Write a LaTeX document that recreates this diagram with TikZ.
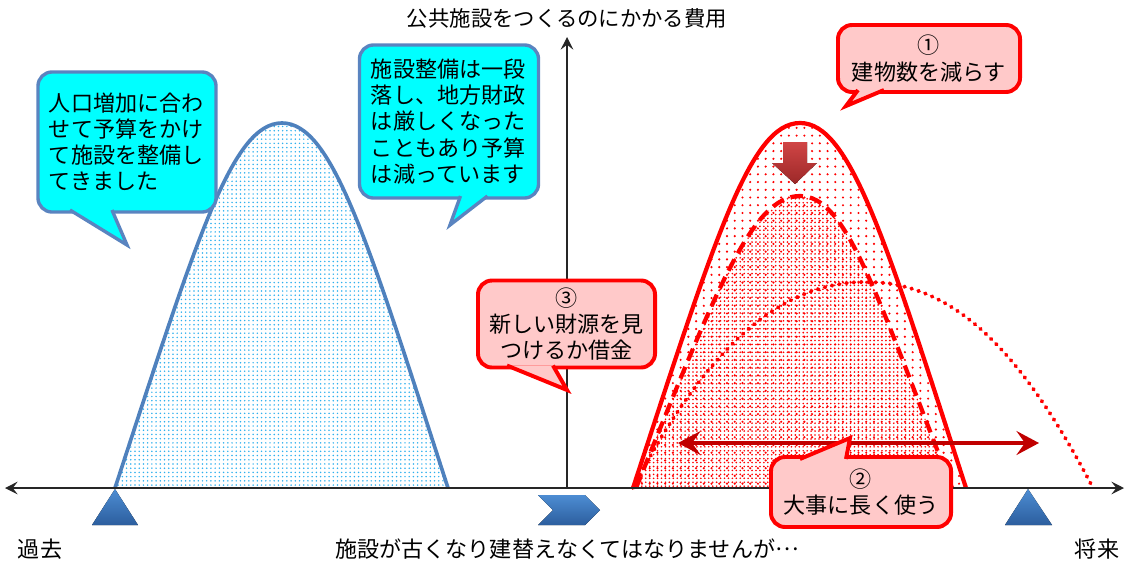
\documentclass[tikz,border=0pt]{standalone}
\usepackage{fontspec}
\setmainfont{Noto Sans CJK JP}
\usetikzlibrary{arrows.meta,calc,patterns.meta}

\definecolor{notecyan}{HTML}{00FFFF}
\definecolor{noteblue}{HTML}{5A84C0}
\definecolor{curveblue}{HTML}{4F81BD}
\definecolor{dotblue}{HTML}{2EB0EE}
\definecolor{notepink}{HTML}{FFC9C9}
\definecolor{arrowred}{HTML}{C00000}
\definecolor{shapetop}{HTML}{4D8DD3}
\definecolor{shapebot}{HTML}{2C5E9E}
\definecolor{blocktop}{HTML}{D04545}
\definecolor{blockbot}{HTML}{9C2828}

\begin{document}
\begin{tikzpicture}[x=0.025cm, y=-0.025cm,
    notefont/.style={font=\fontsize{15.7pt}{18.6pt}\selectfont},
    bluenote/.style={notefont, draw=noteblue, line width=2.4pt, fill=notecyan,
        rounded corners=10pt, outer sep=0pt, inner sep=0pt, align=left, text width=3.9cm},
    rednote/.style={notefont, draw=red, line width=2.8pt, fill=notepink,
        rounded corners=10pt, outer sep=0pt, inner sep=0pt, align=center},
    bluetail/.style={draw=noteblue, line width=2.4pt, fill=notecyan},
    redtail/.style={draw=red, line width=2.8pt, fill=notepink},
    axisline/.style={line width=0.9pt, black!85},
    axistip/.tip={Stealth[length=9pt, width=9pt, inset=3.5pt]},
    longtip/.tip={Stealth[length=16pt, width=17pt, inset=6pt]},
    marker/.style={top color=shapetop, bottom color=shapebot}]
    \useasboundingbox (0,0) rectangle (1128,561);

    % past: built while population grew
    \path[pattern={Dots[distance=3pt, radius=0.6pt]}, pattern color=dotblue,
        draw=curveblue, line width=2.6pt]
        (115,488) .. controls (197,238) and (232,123) .. (282,123)
        .. controls (332,123) and (367,238) .. (448,488);

    % future: needed cost and how to bring it down
    \path[pattern={Dots[distance=5.5pt, radius=0.85pt]}, pattern color=red]
        (633,488) .. controls (715,238) and (750,123) .. (800,123)
        .. controls (850,123) and (885,238) .. (966,488);
    \path[pattern={Dots[distance=2.8pt, radius=0.65pt]}, pattern color=red]
        (636,488) .. controls (717,288) and (752,196) .. (800,196)
        .. controls (846,196) and (874,288) .. (952,488);
    \draw[red, line width=2.8pt, line cap=round, dash pattern=on 0.6pt off 4.6pt]
        (633,488) .. controls (711,338) and (786,282) .. (866,282)
        .. controls (946,282) and (1015,338) .. (1093,488);
    \draw[red, line width=3pt, dash pattern=on 9pt off 5pt]
        (636,488) .. controls (717,288) and (752,196) .. (800,196)
        .. controls (846,196) and (874,288) .. (952,488);
    \draw[red, line width=3pt]
        (633,488) .. controls (715,238) and (750,123) .. (800,123)
        .. controls (850,123) and (885,238) .. (966,488);

    % axes
    \coordinate (origin) at (567,488);
    \coordinate (xleft) at (5,488);
    \coordinate (xright) at (1124,488);
    \coordinate (ytop) at (567,37);
    \draw[axisline, arrows={axistip-axistip}] (xleft) -- (xright);
    \draw[axisline, arrows={-axistip}] (origin) -- (ytop);
    \node[font=\fontsize{15.2pt}{18pt}\selectfont] (costlbl) at (567,18) {公共施設をつくるのにかかる費用};

    % markers on the time axis
    \fill[marker] (115,489) -- (138,525) -- (92,525) -- cycle;
    \fill[marker] (1028,489) -- (1052,525) -- (1005,525) -- cycle;
    \fill[marker] (538,495) -- (585,495) -- (600,510) -- (585,525) -- (538,525) -- (553,510) -- cycle;

    % fewer buildings
    \fill[top color=blocktop, bottom color=blockbot]
        (783,142) -- (807,142) -- (807,163) -- (817,163) -- (795,184)
        -- (772,163) -- (783,163) -- cycle;

    % longer use
    \coordinate (longl) at (678,443);
    \coordinate (longr) at (1039,443);
    \draw[arrowred, line width=3pt, arrows={longtip-longtip}] (longl) -- (longr);

    % callouts
    \node[bluenote, minimum width=4.45cm, minimum height=3.5cm] (pastnote) at (127,142)
        {人口増加に合わ\\せて予算をかけ\\て施設を整備し\\てきました};
    \coordinate (pasttip) at (127,245);
    \filldraw[bluetail] ($(pastnote.south west)+(32,-2)$) -- (pasttip) -- ($(pastnote.south west)+(74,-2)$);

    \node[bluenote, minimum width=4.475cm, minimum height=3.825cm] (budgetnote) at (449,121.5)
        {施設整備は一段\\落し、地方財政\\は厳しくなった\\こともあり予算\\は減っています};
    \coordinate (budgettip) at (450,225);
    \filldraw[bluetail] ($(budgetnote.south west)+(101,-2)$) -- (budgettip) -- ($(budgetnote.south west)+(128,-2)$);

    \node[rednote, minimum width=4.425cm, minimum height=2.175cm] (fundnote) at (566.5,324)
        {③\\新しい財源を見\\つけるか借金};
    \coordinate (fundtip) at (567,390);
    \filldraw[redtail] ($(fundnote.south west)+(29,-2)$) -- (fundtip) -- ($(fundnote.south west)+(75,-2)$);

    \node[rednote, minimum width=4.55cm, minimum height=1.675cm] (reducenote) at (929,58.5)
        {①\\建物数を減らす};
    \coordinate (reducetip) at (846,106);
    \filldraw[redtail] ($(reducenote.south west)+(20,-2)$) -- (reducetip) -- ($(reducenote.south west)+(46,-2)$);

    \node[rednote, minimum width=4.5cm, minimum height=1.75cm] (longusenote) at (861,492)
        {②\\大事に長く使う};
    \coordinate (longusetip) at (850,438);
    \filldraw[redtail] ($(longusenote.north west)+(29,2)$) -- (longusetip) -- ($(longusenote.north west)+(75,2)$);

    % time labels
    \node[notefont] (pastlbl) at (40,549) {過去};
    \node[notefont] (futurelbl) at (1097,549) {将来};
    \node[notefont] (rebuildlbl) at (567,549) {施設が古くなり建替えなくてはなりませんが\raisebox{0.32em}{…}};
\end{tikzpicture}
\end{document}
